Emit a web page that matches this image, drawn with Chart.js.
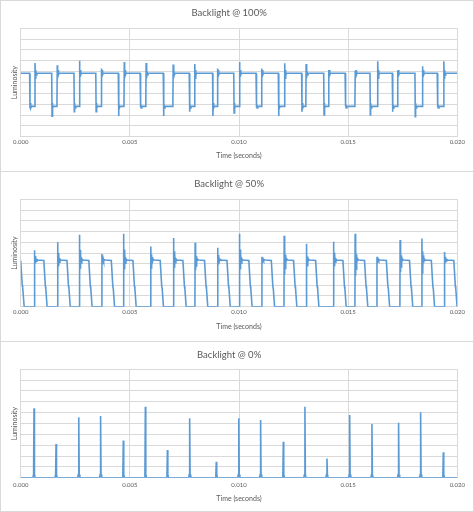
<!DOCTYPE html>
<html><head><meta charset="utf-8">
<script src="https://cdn.jsdelivr.net/npm/chart.js@4.4.1/dist/chart.umd.min.js"></script>
<style>
html,body{margin:0;padding:0;background:#fff;width:474px;height:512px;overflow:hidden;}
.panel{position:absolute;left:0;width:474px;box-sizing:border-box;border:1px solid #d9d9d9;background:#fff;}
canvas{display:block;}
</style></head><body>
<div class="panel" style="top:0;height:172px"><canvas id="c1" width="472" height="170"></canvas></div>
<div class="panel" style="top:171px;height:171px"><canvas id="c2" width="472" height="169"></canvas></div>
<div class="panel" style="top:341px;height:171px"><canvas id="c3" width="472" height="169"></canvas></div>
<script>
// ---------- shared labels ----------
const titles = ['Backlight @ 100%', 'Backlight @ 50%', 'Backlight @ 0%'];
const xTickLabels = ['0.000', '0.005', '0.010', '0.015', '0.020'];
const xTitle = 'Time (seconds)';
const yTitle = 'Luminosity';

// ---------- Backlight @ 100% (times in ms, luminosity in grid units 0-10) ----------
const high100 = 5.85;
const low100 = 2.8;
const fall100 = [0.41, 1.42, 2.44, 3.44, 4.47, 5.47, 6.53, 7.72, 8.79, 9.76, 10.78, 11.80, 12.87, 13.88, 14.86, 16.00, 17.02, 18.06, 19.08];
const rise100 = [0.64, 1.66, 2.68, 3.68, 4.73, 5.73, 6.97, 7.96, 9.00, 10.01, 11.02, 12.08, 13.06, 14.09, 15.31, 16.34, 17.25, 18.39, 19.37];
const under100 = [2.6, 1.9, 2.3, 2.3, 1.9, 2.7, 1.9, 2.3, 1.9, 2.2, 2.7, 1.9, 2.3, 2.0, 2.8, 2.0, 2.3, 1.85, 2.7];
const over100 = [6.8, 6.6, 7.0, 6.3, 6.9, 6.8, 6.65, 6.7, 6.3, 6.9, 6.3, 6.77, 6.7, 6.15, 6.05, 6.95, 6.1, 6.5, 6.95];

// ---------- Backlight @ 50% ----------
const plateau50 = 4.35;
const rise50 = [0.62, 1.68, 2.68, 3.71, 4.70, 5.95, 6.99, 7.98, 9.01, 10.01, 11.04, 12.06, 13.07, 14.32, 15.31, 16.31, 17.37, 18.37, 19.40];
const peak50 = [5.25, 6.0, 6.7, 4.9, 6.8, 5.6, 6.4, 5.95, 5.5, 6.8, 4.65, 6.6, 5.85, 6.05, 6.8, 4.65, 6.2, 6.35, 5.1];

// ---------- Backlight @ 0% ----------
const spike0 = [0.61, 1.62, 2.66, 3.66, 4.70, 5.71, 6.72, 7.74, 8.96, 9.99, 10.99, 12.03, 13.02, 14.03, 15.07, 16.09, 17.31, 18.32, 19.36];
const height0 = [6.4, 3.1, 5.57, 5.7, 3.42, 6.55, 2.55, 5.48, 1.48, 5.48, 5.32, 3.32, 6.55, 1.78, 5.78, 4.95, 5.08, 6.03, 2.34];

// ---------- assemble point tables ----------
function series100() {
  const H = high100, L = low100, pts = [{x: 0, y: H}];
  for (let i = 0; i < fall100.length; i++) {
    const f = fall100[i], r = rise100[i];
    pts.push({x: f, y: H}, {x: f + 0.015, y: under100[i]}, {x: f + 0.03, y: L + 0.3},
      {x: f + 0.05, y: L - 0.15}, {x: f + 0.08, y: L}, {x: r, y: L},
      {x: r + 0.015, y: over100[i]}, {x: r + 0.03, y: H - 0.45}, {x: r + 0.05, y: H + 0.3},
      {x: r + 0.07, y: H - 0.15}, {x: r + 0.1, y: H});
  }
  pts.push({x: 20, y: H});
  return pts;
}
function series50() {
  const P = plateau50;
  const pts = [{x: 0, y: 4.3}, {x: 0.07, y: 2.0}, {x: 0.09, y: 1.8}, {x: 0.16, y: 0}];
  for (let i = 0; i < rise50.length; i++) {
    const r = rise50[i], p = peak50[i], ov = p - P;
    pts.push({x: r, y: 0}, {x: r + 0.01, y: p}, {x: r + 0.025, y: P - 0.6 * ov},
      {x: r + 0.04, y: P + 0.4 * ov}, {x: r + 0.055, y: P - 0.35 * ov}, {x: r + 0.07, y: P + 0.22 * ov},
      {x: r + 0.09, y: P - 0.12 * ov}, {x: r + 0.12, y: P + 0.05 * ov}, {x: r + 0.16, y: P},
      {x: r + 0.44, y: 4.3}, {x: r + 0.51, y: 1.9}, {x: r + 0.53, y: 1.7}, {x: Math.min(r + 0.59, 20), y: 0});
  }
  pts.push({x: 20, y: 0});
  return pts;
}
function series0() {
  const pts = [{x: 0, y: 0}];
  for (let i = 0; i < spike0.length; i++) {
    const t = spike0[i];
    pts.push({x: t - 0.05, y: 0}, {x: t - 0.02, y: 0.3}, {x: t, y: height0[i]},
      {x: t + 0.02, y: 0.3}, {x: t + 0.05, y: 0});
  }
  pts.push({x: 20, y: 0});
  return pts;
}

const FONT = 'Lato, "Open Sans", sans-serif';
const TEXT = '#595959';
const GRID = '#d9d9d9';

function makeChart(id, title, data, g) {
  const cv = document.getElementById(id);
  const W = cv.width, H = cv.height;
  const tFont = 9.5, tLH = tFont * 1.2;
  const aFont = 7, aLH = aFont * 1.2;
  const kFont = 6, kLH = kFont * 1.2;
  new Chart(cv, {
    type: 'line',
    data: {datasets: [{data: data, borderColor: '#5b9bd5', borderWidth: 1.6, pointRadius: 0,
      tension: 0, fill: false}]},
    options: {
      responsive: false, animation: false, devicePixelRatio: 1,
      layout: {padding: {left: 0, top: 0, bottom: 0, right: W - g.right}},
      plugins: {
        legend: {display: false}, tooltip: {enabled: false},
        title: {display: true, text: title, color: TEXT,
          font: {family: FONT, size: tFont, weight: 'normal'},
          padding: {top: g.titleY - tLH / 2, bottom: g.top - g.titleY - tLH / 2}}
      },
      scales: {
        x: {type: 'linear', min: 0, max: 20,
          ticks: {stepSize: 5, autoSkip: false, maxRotation: 0, color: TEXT,
            padding: g.tickY - g.bottom - kLH / 2,
            font: {family: FONT, size: kFont},
            callback: (v, i) => xTickLabels[i]},
          grid: {color: GRID, lineWidth: 1, drawTicks: false},
          border: {color: GRID},
          title: {display: true, text: xTitle, color: TEXT, font: {family: FONT, size: aFont},
            padding: {top: 0, bottom: H - g.xTitleY - aLH / 2}},
          afterFit: s => { s.height = H - g.bottom; s.paddingLeft = 0; s.paddingRight = 0; }
        },
        y: {min: 0, max: 10,
          ticks: {stepSize: 1, display: false},
          grid: {color: GRID, lineWidth: 1, drawTicks: false},
          border: {color: GRID},
          title: {display: true, text: yTitle, color: TEXT, font: {family: FONT, size: aFont},
            padding: {top: g.yTitleX - aLH / 2, bottom: 0}},
          afterFit: s => { s.width = g.left; }
        }
      }
    }
  });
}

makeChart('c1', titles[0], series100(), {left: 19.7, right: 456.3, top: 27.3, bottom: 135.7, titleY: 12.3, tickY: 140.7, xTitleY: 155, yTitleX: 14});
makeChart('c2', titles[1], series50(), {left: 19.7, right: 456.3, top: 27.3, bottom: 134.7, titleY: 11.8, tickY: 139.7, xTitleY: 154.7, yTitleX: 14});
makeChart('c3', titles[2], series0(), {left: 19.7, right: 456.3, top: 27.3, bottom: 135.7, titleY: 12.8, tickY: 143.5, xTitleY: 156.3, yTitleX: 14});
</script>
</body></html>
